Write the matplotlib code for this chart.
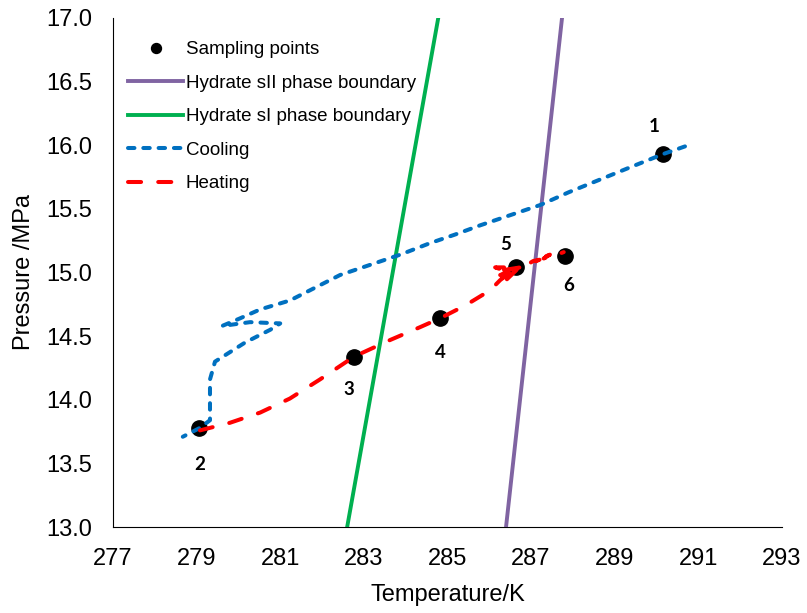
import matplotlib.pyplot as plt

plt.rcParams['font.family'] = ['Liberation Sans', 'DejaVu Sans']

# sampling points (T in K, P in MPa) and their labels
samp_T = [290.16, 279.06, 282.77, 284.82, 286.64, 287.81]
samp_P = [15.93, 13.78, 14.34, 14.64, 15.04, 15.13]
samp_lbl = ['1', '2', '3', '4', '5', '6']
lbl_T = [289.95, 279.08, 282.63, 284.82, 286.40, 287.90]
lbl_P = [16.15, 13.49, 14.08, 14.37, 15.22, 14.90]

# hydrate phase boundaries
sII_T = [286.40, 287.74]
sII_P = [13.0, 17.0]
sI_T = [282.60, 284.78]
sI_P = [13.0, 17.0]

# cooling path
cool_T = [290.68, 290.16, 289.40, 288.65, 287.90, 287.22, 286.50, 285.78, 285.20, 284.58,
          283.87, 283.15, 282.43, 281.71, 281.23, 280.52, 280.04, 279.61, 280.28, 281.00,
          280.76, 280.16, 279.68, 279.44, 279.32, 279.32, 279.32, 279.08, 278.67]
cool_P = [15.99, 15.93, 15.83, 15.73, 15.63, 15.53, 15.45, 15.37, 15.30, 15.23,
          15.14, 15.06, 14.98, 14.86, 14.78, 14.71, 14.64, 14.58, 14.61, 14.60,
          14.55, 14.45, 14.35, 14.30, 14.16, 14.00, 13.84, 13.78, 13.71]

# heating path
heat_T = [279.08, 279.80, 280.52, 281.23, 281.95, 282.77, 283.63, 284.34, 284.82, 285.42,
          286.02, 286.26, 286.50, 286.14, 286.74, 286.18, 286.70, 286.26, 286.66, 286.30,
          286.60, 286.40, 286.78, 286.95, 287.05, 287.20, 287.05, 287.30, 287.45, 287.30,
          287.55, 287.70, 287.78]
heat_P = [13.76, 13.82, 13.90, 14.01, 14.16, 14.34, 14.47, 14.57, 14.64, 14.74,
          14.86, 14.94, 15.00, 15.04, 15.04, 15.01, 15.03, 14.98, 15.00, 14.96,
          14.98, 14.94, 15.06, 15.07, 15.09, 15.10, 15.08, 15.12, 15.14, 15.11,
          15.14, 15.15, 15.16]

fig = plt.figure(figsize=(8.07, 6.13), dpi=100)
ax = fig.add_axes([0.140, 0.140, 0.829, 0.831])

ax.plot(samp_T, samp_P, 'o', color='black', markersize=11, label='Sampling points', zorder=2)
ax.plot(sII_T, sII_P, color='#8064A2', linewidth=2.8, label='Hydrate sII phase boundary', zorder=3)
ax.plot(sI_T, sI_P, color='#00B050', linewidth=2.8, label='Hydrate sI phase boundary', zorder=3)
ax.plot(cool_T, cool_P, color='#0070C0', linewidth=2.9, dashes=(1.6, 2.2),
        dash_capstyle='round', label='Cooling', zorder=4)
ax.plot(heat_T, heat_P, color='#FF0000', linewidth=2.9, dashes=(3.25, 4.25),
        dash_capstyle='round', label='Heating', zorder=4)

for t, p, s in zip(lbl_T, lbl_P, samp_lbl):
    ax.text(t, p, s, fontsize=13.5, fontweight='bold', family=['Lato', 'DejaVu Sans'],
            ha='center', va='center')

ax.set_xlim(277, 293)
ax.set_ylim(13.0, 17.0)
ax.set_xticks(range(277, 294, 2))
ax.set_yticks([13.0, 13.5, 14.0, 14.5, 15.0, 15.5, 16.0, 16.5, 17.0])
ax.set_yticklabels(['%.1f' % v for v in ax.get_yticks()])
ax.tick_params(length=0, labelsize=17, pad=15)
ax.spines['top'].set_visible(False)
ax.spines['right'].set_visible(False)
ax.set_xlabel('Temperature/K', fontsize=17, labelpad=10)
ax.set_ylabel('Pressure /MPa', fontsize=17, labelpad=8)

ax.legend(loc='upper left', bbox_to_anchor=(-0.012, 1.0), frameon=False, fontsize=13.5,
          handlelength=2.9, handletextpad=0.15, labelspacing=0.87, markerscale=0.65,
          borderaxespad=0.85)

fig.savefig('out.png', dpi=100)
